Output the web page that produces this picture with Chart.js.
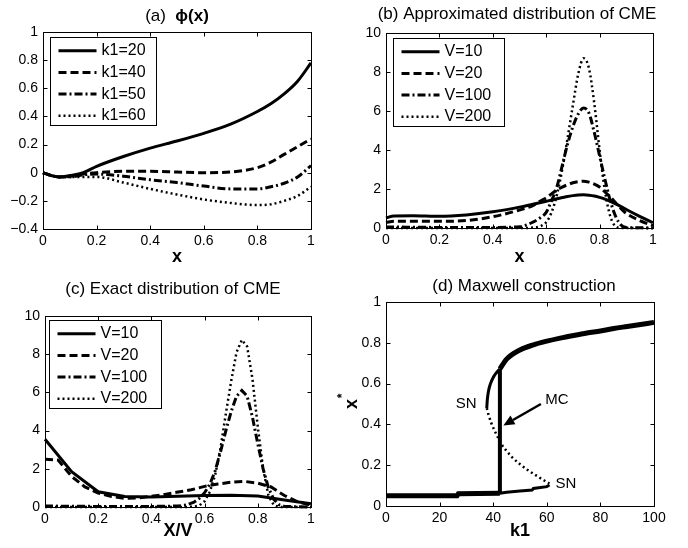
<!DOCTYPE html>
<html>
<head>
<meta charset="utf-8">
<script src="https://cdn.jsdelivr.net/npm/chart.js@4/dist/chart.umd.min.js"></script>
<style>
  body { margin: 0; background: #fff; }
  #wrap { position: relative; width: 688px; height: 548px; overflow: hidden; }
  canvas { position: absolute; }
</style>
</head>
<body>
<div id="wrap">
  <canvas id="ca" style="left:0;top:0" width="344" height="274"></canvas>
  <canvas id="cb" style="left:344px;top:0" width="344" height="274"></canvas>
  <canvas id="cc" style="left:0;top:274px" width="344" height="274"></canvas>
  <canvas id="cd" style="left:320px;top:274px" width="368" height="274"></canvas>
</div>
<script>
// (a) phi(x)
const aX = [0, 0.03, 0.06, 0.1, 0.15, 0.2, 0.3, 0.4, 0.5, 0.6, 0.7, 0.8, 0.85, 0.9, 0.95, 1];
const aK20 = [0, -0.02, -0.03, -0.02, 0.0, 0.045, 0.115, 0.175, 0.225, 0.28, 0.345, 0.435, 0.49, 0.56, 0.65, 0.78];
const aK40 = [0, -0.02, -0.03, -0.025, -0.01, 0.0, 0.01, 0.01, 0.005, 0.0, 0.005, 0.036, 0.075, 0.13, 0.185, 0.24];
const aK50 = [0, -0.02, -0.03, -0.03, -0.015, -0.01, -0.025, -0.05, -0.07, -0.095, -0.115, -0.115, -0.1, -0.075, -0.03, 0.05];
const aK60 = [0, -0.02, -0.03, -0.03, -0.03, -0.03, -0.07, -0.115, -0.155, -0.19, -0.215, -0.23, -0.225, -0.2, -0.165, -0.1];
const aNames = ['k1=20', 'k1=40', 'k1=50', 'k1=60'];
const aXTicks = [0, 0.2, 0.4, 0.6, 0.8, 1];
const aYTicks = [-0.4, -0.2, 0, 0.2, 0.4, 0.6, 0.8, 1];

// (b) approximated distribution
const bX = [0, 0.03, 0.1, 0.2, 0.3, 0.4, 0.5, 0.55, 0.58, 0.6, 0.62, 0.64, 0.66, 0.68, 0.7, 0.72, 0.74, 0.76, 0.78, 0.8, 0.82, 0.84, 0.86, 0.88, 0.9, 0.95, 1];
const bV10 = [0.51, 0.62, 0.63, 0.6, 0.67, 0.83, 1.07, 1.22, 1.31, 1.37, 1.43, 1.5, 1.56, 1.62, 1.66, 1.69, 1.7, 1.68, 1.64, 1.57, 1.48, 1.37, 1.24, 1.1, 0.95, 0.6, 0.27];
const bV20 = [0.28, 0.35, 0.35, 0.34, 0.38, 0.58, 0.92, 1.15, 1.4, 1.55, 1.75, 1.95, 2.1, 2.22, 2.32, 2.38, 2.4, 2.35, 2.25, 2.1, 1.85, 1.6, 1.3, 1.0, 0.75, 0.38, 0.12];
const bV100 = [0.05, 0.05, 0.04, 0.03, 0.03, 0.03, 0.06, 0.3, 0.55, 0.8, 1.4, 2.1, 3.2, 4.3, 5.2, 5.85, 6.15, 5.9, 4.9, 3.7, 2.5, 1.4, 0.6, 0.15, 0.03, 0.01, 0];
const bV200 = [0, 0, 0, 0, 0, 0, 0, 0.02, 0.1, 0.3, 0.8, 1.7, 3.0, 4.6, 6.3, 7.9, 8.7, 8.2, 6.4, 4.0, 1.9, 0.6, 0.08, 0, 0, 0, 0];
const vNames = ['V=10', 'V=20', 'V=100', 'V=200'];
const unitTicks = [0, 0.2, 0.4, 0.6, 0.8, 1];
const densTicks = [0, 2, 4, 6, 8, 10];

// (c) exact distribution
const cX10 = [0, 0.1, 0.2, 0.3, 0.4, 0.5, 0.6, 0.7, 0.8, 0.9, 1];
const cV10 = [3.55, 1.85, 0.8, 0.55, 0.52, 0.56, 0.6, 0.62, 0.58, 0.37, 0.17];
const cX20 = [0, 0.05, 0.1, 0.15, 0.2, 0.25, 0.3, 0.35, 0.4, 0.45, 0.5, 0.55, 0.6, 0.65, 0.7, 0.75, 0.8, 0.85, 0.9, 0.95, 1];
const cV20 = [2.5, 2.45, 1.6, 1.05, 0.73, 0.55, 0.45, 0.47, 0.56, 0.66, 0.78, 0.9, 1.08, 1.2, 1.3, 1.34, 1.25, 1.05, 0.6, 0.27, 0.1];
const cXh = [0, 0.1, 0.2, 0.3, 0.4, 0.5, 0.53, 0.56, 0.58, 0.6, 0.62, 0.64, 0.66, 0.68, 0.7, 0.72, 0.74, 0.76, 0.78, 0.8, 0.82, 0.84, 0.86, 0.88, 0.9, 0.95, 1];
const cV100 = [0.05, 0.04, 0.03, 0.03, 0.03, 0.05, 0.1, 0.25, 0.45, 0.75, 1.2, 1.9, 2.9, 4.0, 5.0, 5.8, 6.1, 5.8, 4.7, 3.3, 2.0, 1.0, 0.4, 0.12, 0.03, 0.01, 0];
const cV200 = [0, 0, 0, 0, 0, 0, 0, 0.02, 0.08, 0.3, 0.8, 1.7, 3.1, 4.9, 6.6, 8.1, 8.75, 8.4, 6.7, 4.2, 2.0, 0.6, 0.1, 0, 0, 0, 0];

// (d) Maxwell construction
const dLowK = [0, 26.5, 27, 42.5];
const dLowX = [0.05, 0.05, 0.06, 0.063];
const dLowMetaK = [42.5, 45, 50, 54.5, 55, 60, 61];
const dLowMetaX = [0.063, 0.067, 0.073, 0.078, 0.086, 0.095, 0.103];
const dUpMetaK = [37.6, 37.8, 38.2, 39, 40, 41, 42.5];
const dUpMetaX = [0.48, 0.52, 0.56, 0.6, 0.63, 0.65, 0.672];
const dUpK = [42.5, 45, 50, 55, 60, 65, 70, 75, 80, 85, 90, 95, 100];
const dUpX = [0.672, 0.72, 0.765, 0.79, 0.808, 0.823, 0.836, 0.848, 0.858, 0.87, 0.88, 0.89, 0.9];
const dUnsK = [37.6, 38.2, 39.2, 40.5, 42, 43.5, 45, 47, 50, 53, 56, 59, 61];
const dUnsX = [0.48, 0.45, 0.41, 0.37, 0.33, 0.295, 0.27, 0.24, 0.205, 0.175, 0.15, 0.125, 0.11];
const dMcK = [42.5, 42.5];
const dMcX = [0.063, 0.672];
const dXTicks = [0, 20, 40, 60, 80, 100];

const FONT = "'Liberation Sans', Arial, Helvetica, sans-serif";
Chart.defaults.font.family = FONT;
Chart.defaults.color = '#000';

const DASH = { solid: [], dashed: [8, 4], dashdot: [8, 3, 2, 3], dotted: [2, 3] };

function line(xs, ys, label, dash, width, smooth) {
  return {
    label: label,
    data: xs.map((x, i) => ({ x: x, y: ys[i] })),
    borderColor: '#000',
    borderWidth: width,
    borderDash: dash,
    borderCapStyle: 'butt',
    pointRadius: 0,
    showLine: true,
    fill: false,
    clip: 4,
    cubicInterpolationMode: smooth ? 'monotone' : 'default',
    tension: 0
  };
}

function fmt(v) {
  return v < 0 ? '\u2212' + String(Math.abs(v)) : String(v);
}

// per-canvas extras: titles, legends, labels
const extras = {
  ca: { title: { cx: 177, cy: 16, parts: [{ t: '(a)  ', b: false }, { t: '\u03D5(x)', b: true }] },
        legend: { bx: 7, by: 5, bw: 106, bh: 88 } },
  cb: { title: { cx: 173, cy: 14, parts: [{ t: '(b) Approximated distribution of CME', b: false }] },
        legend: { bx: 7, by: 5, bw: 111, bh: 88 } },
  cc: { title: { cx: 173, cy: 15, parts: [{ t: '(c) Exact distribution of CME', b: false }] },
        legend: { bx: 4, by: 4, bw: 112, bh: 88 } },
  cd: { title: { cx: 204, cy: 12, parts: [{ t: '(d) Maxwell construction', b: false }] },
        ylab: { x: 32, y: 130 },
        notes: [{ k: 29.9, v: 0.5, t: 'SN' }, { k: 67.1, v: 0.109, t: 'SN' }, { k: 63.8, v: 0.52, t: 'MC' }],
        arrow: { k0: 57.8, v0: 0.5, k1: 43.8, v1: 0.395 } }
};

const matlabBox = {
  id: 'matlabBox',
  afterDatasetsDraw(chart) {
    const ctx = chart.ctx, a = chart.chartArea, x = chart.scales.x, y = chart.scales.y;
    ctx.save();
    ctx.strokeStyle = '#000';
    ctx.lineWidth = 1;
    ctx.setLineDash([]);
    const L = Math.round(a.left) + 0.5, T = Math.round(a.top) + 0.5;
    const R = Math.round(a.right) + 0.5, B = Math.round(a.bottom) + 0.5;
    ctx.strokeRect(L, T, R - L, B - T);
    ctx.beginPath();
    x.ticks.forEach(t => {
      const px = Math.round(x.getPixelForValue(t.value)) + 0.5;
      ctx.moveTo(px, B); ctx.lineTo(px, B - 4);
      ctx.moveTo(px, T); ctx.lineTo(px, T + 4);
    });
    y.ticks.forEach(t => {
      const py = Math.round(y.getPixelForValue(t.value)) + 0.5;
      ctx.moveTo(L, py); ctx.lineTo(L + 4, py);
      ctx.moveTo(R, py); ctx.lineTo(R - 4, py);
    });
    ctx.stroke();
    ctx.restore();
  }
};

const panelText = {
  id: 'panelText',
  afterDraw(chart) {
    const ex = extras[chart.canvas.id];
    if (!ex) return;
    const ctx = chart.ctx, a = chart.chartArea;
    ctx.save();
    ctx.fillStyle = '#000';
    ctx.textBaseline = 'middle';

    // title
    const parts = ex.title.parts;
    const fonts = parts.map(p => (p.b ? 'bold ' : '') + '17px ' + FONT);
    let total = 0;
    const ws = parts.map((p, i) => { ctx.font = fonts[i]; const w = ctx.measureText(p.t).width; total += w; return w; });
    let tx = ex.title.cx - total / 2;
    ctx.textAlign = 'left';
    parts.forEach((p, i) => { ctx.font = fonts[i]; ctx.fillText(p.t, tx, ex.title.cy); tx += ws[i]; });

    // legend
    if (ex.legend) {
      const g = ex.legend;
      const L = Math.round(a.left + g.bx) + 0.5, T = Math.round(a.top + g.by) + 0.5;
      ctx.fillStyle = '#fff';
      ctx.fillRect(L, T, g.bw, g.bh);
      ctx.strokeStyle = '#000';
      ctx.lineWidth = 1;
      ctx.setLineDash([]);
      ctx.strokeRect(L, T, g.bw, g.bh);
      chart.data.datasets.forEach((ds, i) => {
        const yy = T + 13.2 + i * 21.7;
        ctx.beginPath();
        ctx.setLineDash(ds.borderDash);
        ctx.lineWidth = ds.borderWidth;
        ctx.lineCap = 'butt';
        ctx.moveTo(L + 8, yy);
        ctx.lineTo(L + 46, yy);
        ctx.stroke();
        ctx.setLineDash([]);
        ctx.fillStyle = '#000';
        ctx.font = '16px ' + FONT;
        ctx.fillText(ds.label, L + 51, yy);
      });
    }

    // y label x* for (d)
    if (ex.ylab) {
      ctx.save();
      ctx.translate(ex.ylab.x, ex.ylab.y);
      ctx.rotate(-Math.PI / 2);
      ctx.textAlign = 'center';
      ctx.font = 'bold 18px ' + FONT;
      ctx.fillText('x', 0, 0);
      ctx.font = 'bold 12px ' + FONT;
      ctx.fillText('*', 8, -9);
      ctx.restore();
    }

    // annotations for (d)
    if (ex.notes) {
      const sx = chart.scales.x, sy = chart.scales.y;
      ctx.font = '15px ' + FONT;
      ctx.textAlign = 'center';
      ex.notes.forEach(n => ctx.fillText(n.t, sx.getPixelForValue(n.k), sy.getPixelForValue(n.v)));
      const ar = ex.arrow;
      const x0 = sx.getPixelForValue(ar.k0), y0 = sy.getPixelForValue(ar.v0);
      const x1 = sx.getPixelForValue(ar.k1), y1 = sy.getPixelForValue(ar.v1);
      const ang = Math.atan2(y1 - y0, x1 - x0);
      const hl = 11, hw = 5;
      const bxp = x1 - hl * Math.cos(ang), byp = y1 - hl * Math.sin(ang);
      ctx.strokeStyle = '#000';
      ctx.lineWidth = 2.5;
      ctx.setLineDash([]);
      ctx.beginPath();
      ctx.moveTo(x0, y0);
      ctx.lineTo(bxp, byp);
      ctx.stroke();
      ctx.beginPath();
      ctx.moveTo(x1, y1);
      ctx.lineTo(bxp + hw * Math.sin(ang), byp - hw * Math.cos(ang));
      ctx.lineTo(bxp - hw * Math.sin(ang), byp + hw * Math.cos(ang));
      ctx.closePath();
      ctx.fill();
    }
    ctx.restore();
  }
};

function makeChart(id, datasets, o) {
  new Chart(document.getElementById(id), {
    type: 'scatter',
    data: { datasets: datasets },
    plugins: [matlabBox, panelText],
    options: {
      responsive: false,
      animation: false,
      events: [],
      layout: { padding: { left: 0, top: o.top, right: o.right, bottom: 0 } },
      plugins: { legend: { display: false }, tooltip: { enabled: false }, title: { display: false } },
      scales: {
        x: {
          type: 'linear', min: o.xt[0], max: o.xt[o.xt.length - 1],
          afterFit: s => { s.height = o.xh; },
          afterBuildTicks: s => { s.ticks = o.xt.map(v => ({ value: v })); },
          ticks: { font: { size: 14 }, padding: 4, maxRotation: 0, autoSkip: false, callback: v => fmt(v) },
          grid: { display: false, drawTicks: false },
          border: { display: false },
          title: { display: true, text: o.xlabel, font: { size: 18, weight: 'bold' }, padding: { top: 0, bottom: 6 } }
        },
        y: {
          type: 'linear', min: o.yt[0], max: o.yt[o.yt.length - 1],
          afterFit: s => { s.width = o.yw; },
          afterBuildTicks: s => { s.ticks = o.yt.map(v => ({ value: v })); },
          ticks: { font: { size: 14 }, padding: 5, autoSkip: false, callback: v => fmt(v) },
          grid: { display: false, drawTicks: false },
          border: { display: false }
        }
      }
    }
  });
}

makeChart('ca', [
  line(aX, aK20, aNames[0], DASH.solid, 3, true),
  line(aX, aK40, aNames[1], DASH.dashed, 3, true),
  line(aX, aK50, aNames[2], DASH.dashdot, 3, true),
  line(aX, aK60, aNames[3], DASH.dotted, 2.5, true)
], { top: 32, right: 33, yw: 43, xh: 45, xt: aXTicks, yt: aYTicks, xlabel: 'x' });

makeChart('cb', [
  line(bX, bV10, vNames[0], DASH.solid, 3, true),
  line(bX, bV20, vNames[1], DASH.dashed, 3, true),
  line(bX, bV100, vNames[2], DASH.dashdot, 3, true),
  line(bX, bV200, vNames[3], DASH.dotted, 2.5, true)
], { top: 33, right: 35, yw: 42, xh: 46, xt: unitTicks, yt: densTicks, xlabel: 'x' });

makeChart('cc', [
  line(cX10, cV10, vNames[0], DASH.solid, 3, false),
  line(cX20, cV20, vNames[1], DASH.dashed, 3, false),
  line(cXh, cV100, vNames[2], DASH.dashdot, 3, false),
  line(cXh, cV200, vNames[3], DASH.dotted, 2.5, false)
], { top: 42, right: 33, yw: 45, xh: 41, xt: unitTicks, yt: densTicks, xlabel: 'X/V' });

makeChart('cd', [
  line(dLowK, dLowX, 'lower stable', DASH.solid, 5, false),
  line(dLowMetaK, dLowMetaX, 'lower metastable', DASH.solid, 3, false),
  line(dMcK, dMcX, 'MC', DASH.solid, 4, false),
  line(dUpMetaK, dUpMetaX, 'upper metastable', DASH.solid, 3, true),
  line(dUpK, dUpX, 'upper stable', DASH.solid, 5, true),
  line(dUnsK, dUnsX, 'unstable', DASH.dotted, 2.5, true)
], { top: 28, right: 34, yw: 66, xh: 42, xt: dXTicks, yt: unitTicks, xlabel: 'k1' });
</script>
</body>
</html>
